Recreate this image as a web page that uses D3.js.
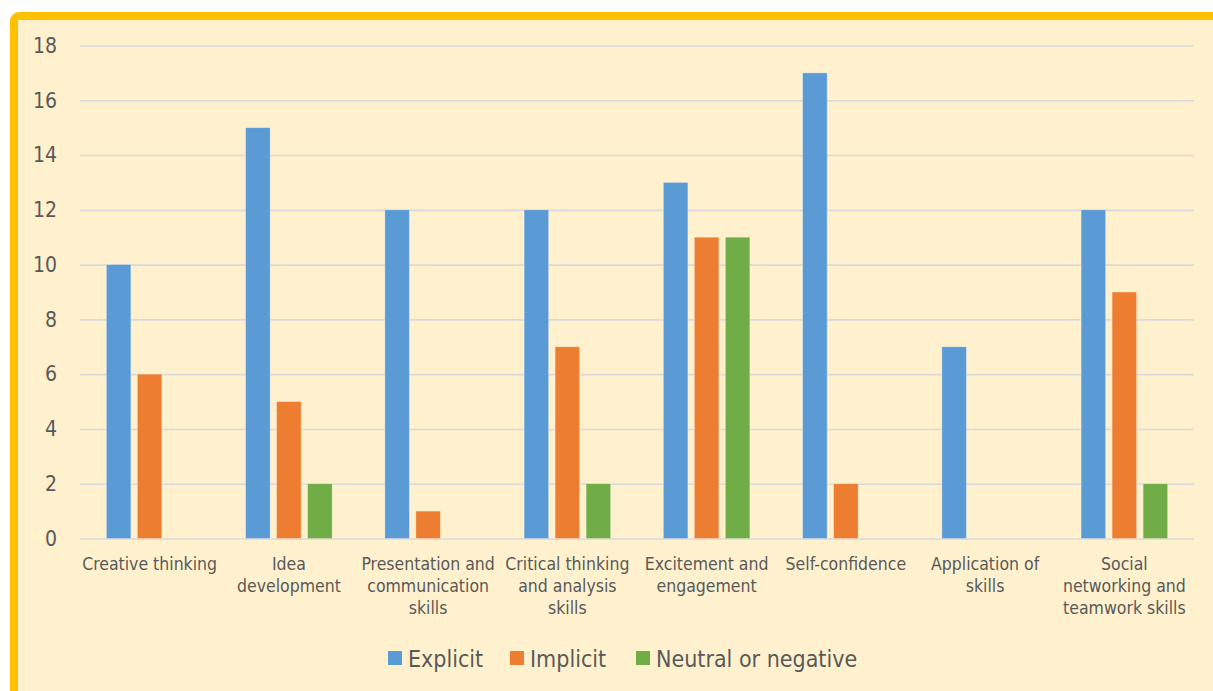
<!DOCTYPE html>
<html>
<head>
<meta charset="utf-8">
<script src="https://cdn.jsdelivr.net/npm/d3@7"></script>
<style>
  html, body { margin: 0; padding: 0; background: #ffffff; }
  svg { display: block; }
  text { font-family: Tahoma, "DejaVu Sans Condensed", "DejaVu Sans", sans-serif; fill: #595959; }
</style>
</head>
<body>
<svg id="chart" width="1213" height="691"></svg>
<script>
// Skill categories (one entry per group of bars)
const categories = [
  "Creative thinking",
  "Idea development",
  "Presentation and communication skills",
  "Critical thinking and analysis skills",
  "Excitement and engagement",
  "Self-confidence",
  "Application of skills",
  "Social networking and teamwork skills"
];
// Axis labels as they wrap under each group
const categoryLabelLines = [
  ["Creative thinking"],
  ["Idea", "development"],
  ["Presentation and", "communication", "skills"],
  ["Critical thinking", "and analysis", "skills"],
  ["Excitement and", "engagement"],
  ["Self-confidence"],
  ["Application of", "skills"],
  ["Social", "networking and", "teamwork skills"]
];
const seriesNames = ["Explicit", "Implicit", "Neutral or negative"];
const explicitValues = [10, 15, 12, 12, 13, 17, 7, 12];
const implicitValues = [6, 5, 1, 7, 11, 2, 0, 9];
const neutralValues  = [0, 2, 0, 2, 11, 0, 0, 2];
const yTicks = [0, 2, 4, 6, 8, 10, 12, 14, 16, 18];

const seriesValues = [explicitValues, implicitValues, neutralValues];
const colors = ["#5B9BD5", "#ED7D31", "#70AD47"];

const svg = d3.select("#chart");

// Panel background with the gold frame (runs off the right and bottom edges)
svg.append("rect")
  .attr("x", 14).attr("y", 16)
  .attr("width", 1260).attr("height", 720)
  .attr("rx", 5).attr("ry", 5)
  .attr("fill", "#FFF1CD")
  .attr("stroke", "#FFC000")
  .attr("stroke-width", 8);

const plot = { left: 80, right: 1194, top: 45.5, bottom: 538.5 };

const x0 = d3.scaleBand()
  .domain(categories)
  .range([plot.left, plot.right])
  .paddingInner(0)
  .paddingOuter(0);

const y = d3.scaleLinear()
  .domain([0, 18])
  .range([plot.bottom, plot.top]);

// Bar geometry inside a group: 24px bars on a 31px pitch
const barStep = 31, barWidth = 24.5;
const x1 = d3.scaleBand()
  .domain(seriesNames)
  .range([-barStep * 1.5, barStep * 1.5]);

// Gridlines
const yAxis = d3.axisLeft(y)
  .tickValues(yTicks)
  .tickSize(-(plot.right - plot.left))
  .tickFormat(d3.format("d"))
  .tickPadding(23);

const gAxis = svg.append("g")
  .attr("transform", `translate(${plot.left},0)`)
  .call(yAxis);
gAxis.select(".domain").remove();
gAxis.selectAll(".tick line")
  .attr("stroke", "#D9D9D9")
  .attr("stroke-width", 1.6);
gAxis.selectAll(".tick text")
  .attr("fill", "#595959")
  .style("font-size", "21px");

// Bars
const groups = svg.append("g").selectAll("g")
  .data(categories)
  .join("g")
  .attr("transform", d => `translate(${x0(d) + x0.bandwidth() / 2},0)`);

groups.selectAll("rect")
  .data((d, i) => seriesNames.map((s, k) => ({ series: s, k, value: seriesValues[k][i] })))
  .join("rect")
  .filter(d => d.value > 0)
  .attr("x", d => x1(d.series) + (barStep - barWidth) / 2)
  .attr("y", d => y(d.value))
  .attr("width", barWidth)
  .attr("height", d => y(0) - y(d.value))
  .attr("fill", d => colors[d.k])
  .attr("stroke", "rgba(255,255,255,0.35)")
  .attr("stroke-width", 0.8);

// Category labels
const labels = svg.append("g").selectAll("text")
  .data(categories)
  .join("text")
  .attr("text-anchor", "middle")
  .attr("x", d => x0(d) + x0.bandwidth() / 2)
  .attr("y", 570)
  .style("font-size", "17.5px");

labels.each(function (d, i) {
  const t = d3.select(this);
  categoryLabelLines[i].forEach((line, j) => {
    t.append("tspan")
      .attr("x", x0(d) + x0.bandwidth() / 2)
      .attr("dy", j === 0 ? 0 : 22)
      .text(line);
  });
});

// Legend
const legendX = [388, 510, 636];
const legend = svg.append("g").selectAll("g")
  .data(seriesNames)
  .join("g")
  .attr("transform", (d, i) => `translate(${legendX[i]},651)`);
legend.append("rect")
  .attr("width", 14).attr("height", 14)
  .attr("fill", (d, i) => colors[i]);
legend.append("text")
  .attr("x", 20).attr("y", 16)
  .style("font-size", "23px")
  .text(d => d);
</script>
</body>
</html>
